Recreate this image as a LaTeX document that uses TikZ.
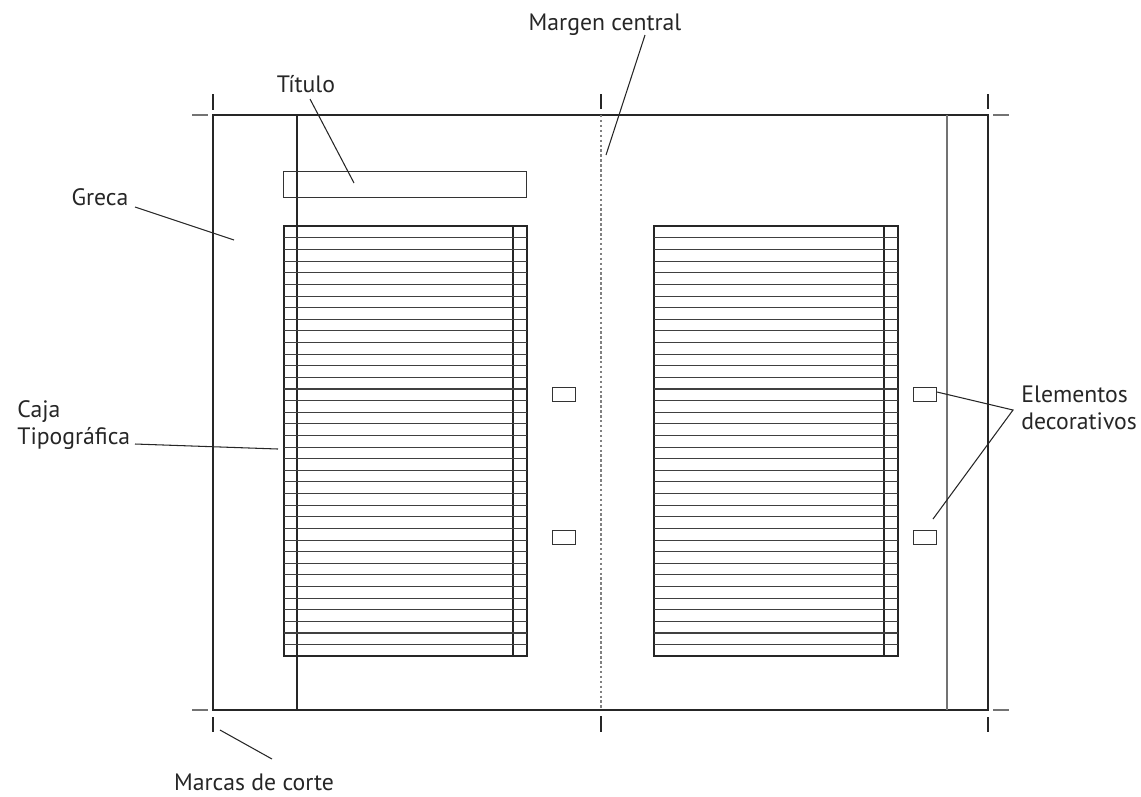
\documentclass[tikz,border=0pt]{standalone}
\usepackage{fontspec}
\setmainfont{PT Sans}
\begin{document}
\begin{tikzpicture}[x=0.02cm,y=-0.02cm,
  ln/.style={line width=0.6pt,draw=black!85},
  gl/.style={line width=0.6pt,draw=black!55},
  lbl/.style={font=\fontsize{13.5}{15.5}\selectfont,inner sep=0pt,text=black!85},
  deco/.style={draw=black!80,line width=0.6pt,inner sep=0pt,minimum width=23*0.02cm,minimum height=14*0.02cm,anchor=north west},
  leader/.style={line width=0.6pt,draw=black!85}]
\useasboundingbox (0,0) rectangle (1141,796);
% page
\draw[ln] (213,115) rectangle (988,710);
\draw[ln] (297,115) -- (297,710);
\draw[gl] (947,115) -- (947,710);
\draw[line width=0.7pt,draw=black!50,dash pattern=on 1.4pt off 1.4pt] (601,115) -- (601,710);
% crop marks
\draw[gl] (192,115) -- (208,115);
\draw[ln] (213,94) -- (213,110);
\draw[gl] (192,710) -- (208,710);
\draw[ln] (213,717) -- (213,732);
\draw[ln] (601,94) -- (601,109);
\draw[ln] (601,716) -- (601,732);
\draw[ln] (988,94) -- (988,109);
\draw[gl] (993,115) -- (1009,115);
\draw[gl] (993,710) -- (1009,710);
\draw[ln] (988,717) -- (988,732);
% title box
\node[draw=black!80,line width=0.6pt,inner sep=0pt,minimum width=243*0.02cm,minimum height=26*0.02cm,anchor=north west] (tbox) at (283,171) {};
% text boxes
\foreach \xl/\xm/\xr in {284/513/527, 654/884/898}{
  \draw[ln] (\xl,226) rectangle (\xr,656);
  \draw[ln] (\xm,226) -- (\xm,656);
  \foreach \i in {1,...,36}{
    \draw[line width=0.6pt,draw=black!75] (\xl,226.3+\i*11.62) -- (\xr,226.3+\i*11.62);
  }
}
% decorative elements
\node[deco] (d1) at (552,387) {};
\node[deco] (d2) at (552,530) {};
\node[deco] (d3) at (913,387) {};
\node[deco] (d4) at (913,530) {};
% labels
\node[lbl] (titulo) at (306,84) {Título};
\node[lbl] (margen) at (605,25) {Margen central};
\node[lbl] (greca) at (100,197) {Greca};
\node[lbl,anchor=west,align=left] (caja) at (17,425) {Caja\\Tipográfica};
\node[lbl,anchor=west,align=left] (elem) at (1021,408) {Elementos\\decorativos};
\node[lbl] (marcas) at (254,782) {Marcas de corte};
% leader ends
\coordinate (tA) at (310,99);  \coordinate (tB) at (354,183);
\coordinate (mA) at (645,35);  \coordinate (mB) at (606,155);
\coordinate (gA) at (135,207); \coordinate (gB) at (234,240);
\coordinate (cA) at (135,444); \coordinate (cB) at (278,449);
\coordinate (eA) at (1013,410); \coordinate (eB) at (937,392); \coordinate (eC) at (933,519);
\coordinate (kA) at (220,730); \coordinate (kB) at (272,759);
\draw[leader] (tA) -- (tB);
\draw[leader] (mA) -- (mB);
\draw[leader] (gA) -- (gB);
\draw[leader] (cA) -- (cB);
\draw[leader] (eB) -- (eA) -- (eC);
\draw[leader] (kA) -- (kB);
\end{tikzpicture}
\end{document}
